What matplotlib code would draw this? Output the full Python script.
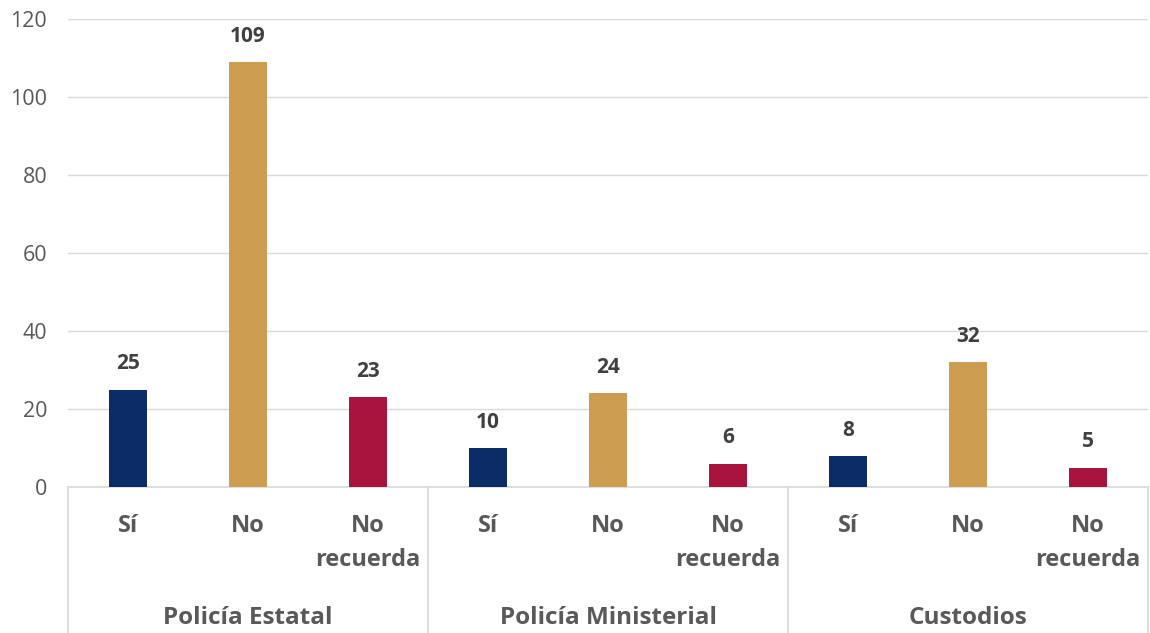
import matplotlib.pyplot as plt
import matplotlib.transforms as mtransforms

# datos
grupos = ['Policía Estatal', 'Policía Ministerial', 'Custodios']
respuestas = ['Sí', 'No', 'No\nrecuerda']
valores = [[25, 109, 23], [10, 24, 6], [8, 32, 5]]
colores = ['#0B2C67', '#CD9E51', '#A8143E']

plt.rcParams['font.family'] = ['Open Sans', 'DejaVu Sans']

fig = plt.figure(figsize=(11.5, 6.33), dpi=100)
ax = fig.add_axes([68/1150, 146/633, 1080/1150, 468/633])

n = len(respuestas)
for g, vals in enumerate(valores):
    for i, v in enumerate(vals):
        x = g * n + i
        ax.bar(x, v, width=0.32, color=colores[i], zorder=3)
        ax.annotate(str(v), (x, v), xytext=(0, 11), textcoords='offset points',
                    ha='center', va='bottom', fontsize=15, fontweight='bold', color='#404040')

ax.set_xlim(-0.5, len(grupos) * n - 0.5)
ax.set_ylim(0, 120)
ax.set_yticks(range(0, 121, 20))
ax.tick_params(axis='y', length=0, pad=15, labelsize=15.5, labelcolor='#595959')
ax.set_xticks([])
ax.grid(axis='y', color='#D9D9D9', linewidth=1, zorder=0)
for s in ['top', 'right', 'left']:
    ax.spines[s].set_visible(False)
ax.spines['bottom'].set_color('#D9D9D9')
ax.spines['bottom'].set_linewidth(1.2)

trans = mtransforms.blended_transform_factory(ax.transData, ax.transAxes)
# etiquetas de categorías
for g, nombre in enumerate(grupos):
    for i, r in enumerate(respuestas):
        ax.text(g * n + i, -0.058, r, transform=trans, ha='center', va='top',
                fontsize=17, fontweight='bold', color='#595959', linespacing=1.55)
    ax.text(g * n + 1, -0.28, nombre, transform=trans, ha='center', va='center',
            fontsize=17.5, fontweight='bold', color='#595959')

# separadores
for g in range(len(grupos) + 1):
    ax.plot([g * n - 0.5, g * n - 0.5], [0, -0.32], transform=trans,
            color='#D9D9D9', linewidth=1.2, clip_on=False)

fig.savefig('out.png', dpi=100)
